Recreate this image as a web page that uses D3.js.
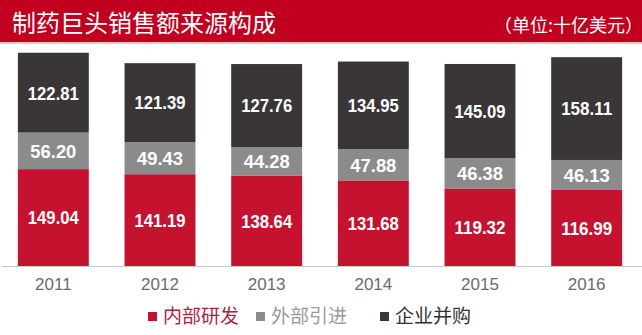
<!DOCTYPE html>
<html><head><meta charset="utf-8">
<script src="https://cdn.jsdelivr.net/npm/d3@7"></script>
<style>body{margin:0;background:#fff}svg{display:block}</style>
</head><body>
<script>
const years = ["2011","2012","2013","2014","2015","2016"];
const internalRD = [149.04,141.19,138.64,131.68,119.32,116.99];
const licensing = [56.20,49.43,44.28,47.88,46.38,46.13];
const mna = [122.81,121.39,127.76,134.95,145.09,158.11];
const seriesNames = ["内部研发","外部引进","企业并购"];
const title = "制药巨头销售额来源构成";
const unit = "（单位:十亿美元）";

const W=642,H=335;
const colors=["#c5122f","#8c8b8c","#3a3638"];
const legendText=["#b3203c","#9a9a9a","#333"];
const svg=d3.select("body").append("svg").attr("width",W).attr("height",H);

svg.append("rect").attr("x",0).attr("y",0).attr("width",W).attr("height",42).attr("fill","#c1001f");
svg.append("rect").attr("x",0).attr("y",42).attr("width",W).attr("height",2).attr("fill","#ecc4ca");
svg.append("text").attr("x",12).attr("y",32).attr("fill","#fff").attr("font-family","Noto Sans CJK SC").attr("font-size",24).text(title);
svg.append("text").attr("x",643).attr("y",32).attr("text-anchor","end").attr("fill","#fff").attr("font-family","Noto Sans CJK SC").attr("font-size",18).text(unit);

const data=years.map((y,i)=>({year:y,a:internalRD[i],b:licensing[i],c:mna[i]}));
const stack=d3.stack().keys(["a","b","c"])(data);
const x=d3.scaleBand().domain(years).range([0,640]).paddingInner(0.335).paddingOuter(0.1675);
const y=d3.scaleLinear().domain([0,409.2]).range([266,0]);

const g=svg.append("g");
stack.forEach((s,k)=>{
  g.selectAll(null).data(s).enter().append("rect")
   .attr("x",d=>x(d.data.year)).attr("width",x.bandwidth())
   .attr("y",d=>y(d[1])).attr("height",d=>y(d[0])-y(d[1]))
   .attr("fill",colors[k]);
  g.selectAll(null).data(s).enter().append("text")
   .attr("x",d=>x(d.data.year)+x.bandwidth()/2)
   .attr("y",d=>(y(d[0])+y(d[1]))/2)
   .attr("dy","0.36em").attr("text-anchor","middle")
   .attr("fill","#fff").attr("font-weight","bold")
   .attr("font-family","'Liberation Sans',Arial,sans-serif")
   .attr("font-size",19)
   .attr("textLength",d=>(d[1]-d[0]).toFixed(2).length>5?51:46)
   .attr("lengthAdjust","spacingAndGlyphs")
   .text(d=>(d[1]-d[0]).toFixed(2));
});

const axis=d3.axisBottom(x).tickSize(0).tickPadding(12);
const ax=svg.append("g").attr("transform","translate(0,266)").call(axis);
ax.select(".domain").attr("stroke","#c8c8c8").attr("d","M2,0.5H642");
ax.selectAll("text").attr("font-family","'Liberation Sans',Arial,sans-serif").attr("font-size",17).attr("fill","#6b6b6b");

const lx=[148,256,380];
seriesNames.forEach((n,i)=>{
  svg.append("rect").attr("x",lx[i]).attr("y",312).attr("width",9).attr("height",9).attr("fill",colors[i]);
  svg.append("text").attr("x",lx[i]+15).attr("y",323).attr("font-family","Noto Sans CJK SC").attr("font-size",19).attr("fill",legendText[i]).text(n);
});
</script>
</body></html>
